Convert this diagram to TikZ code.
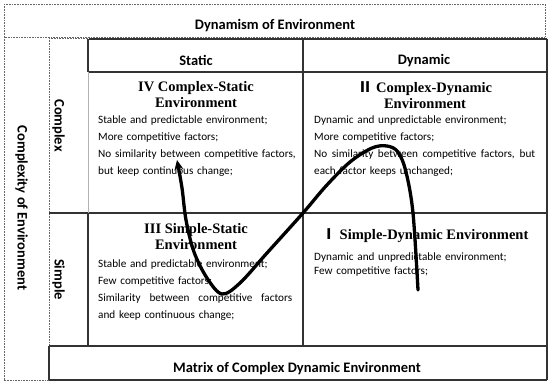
\documentclass[tikz,border=0pt]{standalone}
\usepackage{fontspec}
\setmainfont{Carlito}
\newfontfamily\titlefont{Liberation Serif}
\newfontfamily\cjk{Noto Sans CJK SC}
\usetikzlibrary{arrows.meta}

\newcommand{\jline}[1]{\makebox[\hsize][s]{\spaceskip=.23em plus 1fil\xspaceskip=.23em plus 1fil #1}}

\tikzset{
	linea/.style={draw=black!80, line width=1.4pt},
	gris/.style={draw=black!30, line width=1pt},
	punteado/.style={draw=black!60, line width=1pt, dash pattern=on 0.8pt off 0.8pt},
	encabezado/.style={font=\fontsize{14.5}{16}\selectfont\bfseries, inner sep=0pt},
	titulo/.style={font=\titlefont\fontsize{14.5}{16.5}\selectfont\bfseries, align=center, inner sep=0pt},
	texto/.style={font=\fontsize{11.2}{17}\selectfont, align=left, inner sep=0pt, anchor=north west},
	curva/.style={line width=3.3pt, line cap=round}
}

\begin{document}
\begin{tikzpicture}[x=1pt, y=-1pt]
\useasboundingbox (0,0) rectangle (550,383);

% Bordes punteados
	\draw[punteado] (4,4) rectangle (545,37);
	\draw[punteado] (4,37) -- (4,380) -- (49,380);
	\draw[punteado] (49,38) -- (88,38);
	\draw[punteado] (49,38) -- (49,346);

% Rejilla
	\draw[linea] (89,39) -- (547,39);
	\foreach \y in {72}
		\draw[linea] (89,\y) -- (547,\y);
	\foreach \y in {213, 346, 380}
		\draw[linea] (49,\y) -- (547,\y);
	\draw[linea] (49,346) -- (49,380);
	\draw[linea] (303,39) -- (303,346);
	\draw[linea] (547,39) -- (547,380);
	\draw[linea] (88,39) -- (88,72);
	\draw[gris] (88,72) -- (88,213);
	\draw[linea] (88,213) -- (88,346);

% Encabezados
	\node[encabezado, anchor=base] (dinamismo) at (275,29.5) {Dynamism of Environment};
	\node[encabezado, anchor=base] (estatico) at (196,65) {Static};
	\node[encabezado, anchor=base] (dinamico) at (424,64.5) {Dynamic};
	\node[encabezado, anchor=base] (matriz) at (297,372.5) {Matrix of Complex Dynamic Environment};
	\node[encabezado, rotate=-90] (complejidad) at (21.5,208) {Complexity of Environment};
	\node[encabezado, rotate=-90] (complejo) at (58.5,125.5) {Complex};
	\node[encabezado, rotate=-90] (simple) at (58.5,279.5) {Simple};

% Cuadrantes
	\node[titulo, anchor=north] (tituloIV) at (196,81) {IV Complex-Static\\Environment};
	\node[titulo, anchor=north] (tituloII) at (425,81) {{\cjk Ⅱ} Complex-Dynamic\\Environment};
	\node[titulo, anchor=north] (tituloIII) at (196,223) {III Simple-Static\\Environment};
	\node[titulo, anchor=base] (tituloI) at (425,239) {{\cjk Ⅰ} Simple-Dynamic Environment};

	\node[texto, text width=200pt] (textoIV) at (98,116) {Stable and predictable environment;\\
		More competitive factors;\\
		\mbox{No similarity between competitive factors,}\\
		but keep continuous change;};
	\node[texto, text width=221pt] (textoII) at (314,116) {Dynamic and unpredictable environment;\\
		More competitive factors;\\
		\jline{No similarity between competitive factors, but}\\
		each factor keeps unchanged;};
	\node[texto, text width=194pt] (textoIII) at (98,260) {Stable and predictable environment;\\
		Few competitive factors;\\
		\jline{Similarity between competitive factors}\\
		and keep continuous change;};
	\node[texto, text width=221pt, font=\fontsize{11.2}{13.5}\selectfont] (textoI) at (314,253) {Dynamic and unpredictable environment;\\
		Few competitive factors;};

% Curva
	\draw[curva, -{Stealth[length=10pt, width=9pt]}] plot[smooth, tension=0.55] coordinates {
		(418,290) (413,213) (406,172) (398,152) (387,146) (372,148) (350,162) (326,186)
		(303,213) (267,253) (240,283) (222,294) (207,278) (194,252) (186,220) (182,188) (177,160)};
\end{tikzpicture}
\end{document}
